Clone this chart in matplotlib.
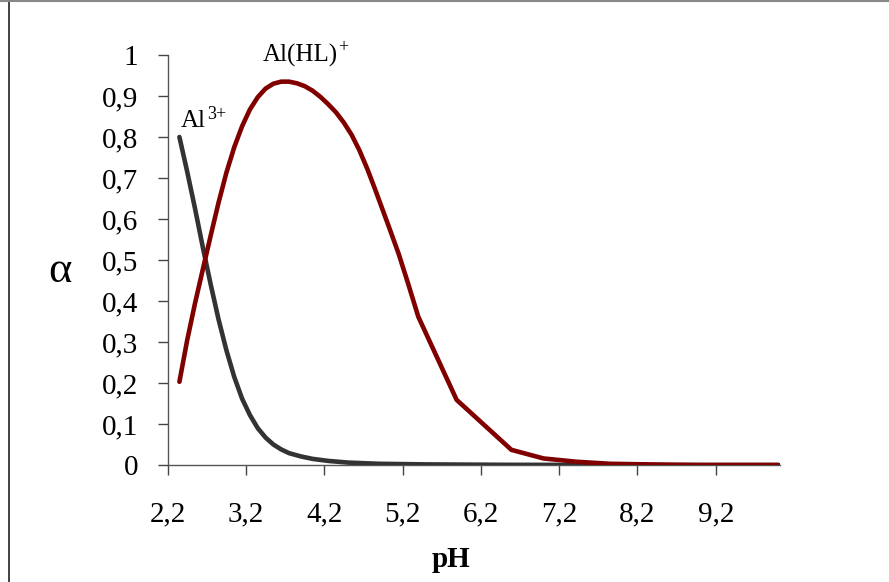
import matplotlib
matplotlib.use("Agg")
import matplotlib.pyplot as plt
from matplotlib.lines import Line2D

plt.rcParams['font.family'] = ['Liberation Serif', 'DejaVu Serif']

# Al3+ fraction
ph_al = [2.35, 2.45, 2.55, 2.65, 2.75, 2.85, 2.95, 3.05, 3.15, 3.25, 3.35, 3.45,
         3.55, 3.65, 3.75, 3.90, 4.05, 4.25, 4.50, 4.90, 5.50, 6.50, 8.00, 10.00]
alpha_al = [0.800, 0.715, 0.625, 0.530, 0.440, 0.355, 0.280, 0.215, 0.162, 0.122,
            0.090, 0.067, 0.050, 0.038, 0.029, 0.021, 0.015, 0.010, 0.006, 0.003,
            0.0015, 0.0005, 0.0, 0.0]

# Al(HL)+ fraction
ph_hl = [2.35, 2.45, 2.55, 2.65, 2.75, 2.85, 2.95, 3.05, 3.15, 3.25, 3.35, 3.45,
         3.55, 3.65, 3.75, 3.85, 3.95, 4.05, 4.15, 4.25, 4.35, 4.45, 4.55, 4.65,
         4.75, 4.85, 4.95, 5.05, 5.15, 5.27, 5.40, 5.89, 6.59, 7.00, 7.42, 7.85,
         8.50, 9.00, 10.00]
alpha_hl = [0.203, 0.305, 0.395, 0.478, 0.560, 0.640, 0.713, 0.775, 0.826, 0.867,
            0.897, 0.918, 0.930, 0.935, 0.935, 0.931, 0.924, 0.913, 0.898, 0.880,
            0.860, 0.835, 0.805, 0.767, 0.722, 0.672, 0.620, 0.568, 0.515, 0.443,
            0.362, 0.159, 0.037, 0.016, 0.008, 0.003, 0.001, 0.0, 0.0]

x_ticks = [2.2, 3.2, 4.2, 5.2, 6.2, 7.2, 8.2, 9.2]
x_tick_labels = ["2,2", "3,2", "4,2", "5,2", "6,2", "7,2", "8,2", "9,2"]
y_ticks = [0, 0.1, 0.2, 0.3, 0.4, 0.5, 0.6, 0.7, 0.8, 0.9, 1.0]
y_tick_labels = ["0", "0,1", "0,2", "0,3", "0,4", "0,5", "0,6", "0,7", "0,8", "0,9", "1"]

fig = plt.figure(figsize=(8.89, 5.82), dpi=100)
ax = fig.add_axes([0.1886, 0.2010, 0.6888, 0.7045])

ax.plot(ph_al, alpha_al, color='#333333', lw=3.3, solid_capstyle='round', zorder=3)
ax.plot(ph_hl, alpha_hl, color='#800000', lw=3.3, solid_capstyle='round', zorder=4)

ax.set_xlim(2.2, 10.02)
ax.set_ylim(0, 1)
ax.set_xticks(x_ticks)
ax.set_xticklabels(x_tick_labels)
ax.set_yticks(y_ticks)
ax.set_yticklabels(y_tick_labels)
ax.tick_params(axis='both', direction='out', length=7, width=1, color='#444444',
               labelsize=21, labelcolor='black')
ax.tick_params(axis='x', pad=19)
ax.tick_params(axis='y', pad=14)
for s in ['top', 'right']:
    ax.spines[s].set_visible(False)
for s in ['left', 'bottom']:
    ax.spines[s].set_color('#555555')
    ax.spines[s].set_linewidth(1.0)

# species labels with superscripts
t1 = ax.text(2.37, 0.824, 'Al', fontsize=18, ha='left', va='baseline')
t2 = ax.text(3.41, 0.983, 'Al(HL)', fontsize=18, ha='left', va='baseline')
fig.canvas.draw()
r = fig.canvas.get_renderer()
bb1 = t1.get_window_extent(r)
bb2 = t2.get_window_extent(r)
inv = ax.transData.inverted()

base1 = ax.transData.transform((2.37, 0.824))[1]
p1, y1 = inv.transform((bb1.x1 + 1, base1 + 8))
ax.text(p1, y1, '3+', fontsize=13, ha='left', va='baseline')

base2 = ax.transData.transform((3.41, 0.983))[1]
p2, y2 = inv.transform((bb2.x1 + 1, base2 + 10))
ax.text(p2, y2, '+', fontsize=13, ha='left', va='baseline', clip_on=False)

fig.text(0.0675, 0.535, 'α', fontsize=32, ha='center', va='center')
fig.text(0.507, 0.038, 'pH', fontsize=21, fontweight='bold', ha='center', va='center')

fig.add_artist(Line2D([0.0101, 0.0101], [0, 1], transform=fig.transFigure,
                      color='#222222', lw=1.2))
fig.add_artist(Line2D([0.0, 1.0], [0.998, 0.998], transform=fig.transFigure,
                      color='#888888', lw=1.5))

fig.savefig('out.png', dpi=100)
